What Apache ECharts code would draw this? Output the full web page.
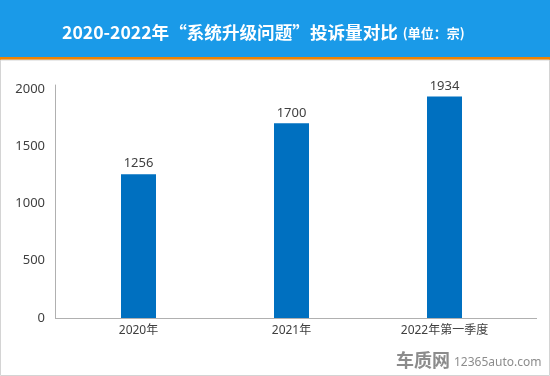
<!DOCTYPE html>
<html>
<head>
<meta charset="utf-8">
<script src="https://cdn.jsdelivr.net/npm/echarts@6/dist/echarts.min.js"></script>
<style>
	html, body { margin: 0; padding: 0; background: #fff; }
	#main { width: 550px; height: 376px; }
</style>
</head>
<body>
<div id="main"></div>
<script>
var categories = ['2020年', '2021年', '2022年第一季度'];
var complaints = [1256, 1700, 1934];
var yTicks = [0, 500, 1000, 1500, 2000];

var font = '"Noto Sans", "Noto Sans CJK SC", sans-serif';

var chart = echarts.init(document.getElementById('main'));
chart.setOption({
	animation: false,
	title: {
		text: '{a|2020-2022年“系统升级问题”投诉量对比} {b|(单位：宗)}',
		left: 57,
		top: 18,
		textStyle: {
			rich: {
				a: { color: '#fff', fontSize: 17.6, fontWeight: 'bold', fontFamily: '"Noto Sans CJK SC", sans-serif' },
				b: { color: '#fff', fontSize: 13, fontFamily: '"Noto Sans CJK SC", sans-serif', padding: [2, 0, 0, 0] }
			}
		}
	},
	grid: {
		left: 62,
		right: 29,
		top: 85,
		bottom: 58
	},
	xAxis: {
		type: 'category',
		data: categories,
		axisLine: { show: false },
		axisTick: { show: false },
		axisLabel: {
			color: '#404040',
			fontSize: 12,
			fontFamily: font,
			margin: 7
		}
	},
	yAxis: {
		type: 'value',
		min: 0,
		max: 2035,
		interval: 500,
		offset: 7,
		splitLine: { show: false },
		axisLine: { show: true, lineStyle: { color: '#b0b0b0' } },
		axisTick: { show: false },
		axisLabel: {
			color: '#404040',
			fontSize: 13,
			fontFamily: font,
			margin: 10,
			formatter: function(v) {
				return yTicks.indexOf(v) >= 0 ? String(v) : '';
			}
		}
	},
	series: [{
		type: 'bar',
		data: complaints,
		barWidth: 35,
		itemStyle: { color: '#0070c0' },
		label: {
			show: true,
			position: 'top',
			distance: 4,
			color: '#404040',
			fontSize: 13,
			fontFamily: font
		}
	}],
	graphic: [
		// header band
		{ type: 'rect', shape: { x: 0, y: 0, width: 550, height: 57 }, style: { fill: '#1a9ae8' }, z: -10 },
		{ type: 'rect', shape: { x: 0, y: 57, width: 550, height: 3 }, style: { fill: '#f08300' }, z: -10 },
		// frame
		{ type: 'rect', shape: { x: 0.5, y: 60, width: 549, height: 315.5 }, style: { fill: null, stroke: '#d4d4d4', lineWidth: 1 }, z: -10 },
		// x axis line
		{ type: 'line', shape: { x1: 55, y1: 318.5, x2: 537, y2: 318.5 }, style: { stroke: '#b0b0b0', lineWidth: 1 } },
		// watermark
		{ type: 'text', left: 396, top: 351, style: { text: '车质网', fill: '#8c8c8c', font: 'bold 18px "Noto Sans CJK SC", sans-serif' } },
		{ type: 'text', left: 454, top: 357, style: { text: '12365auto.com', fill: '#8c8c8c', font: '12px "Noto Sans", sans-serif' } }
	]
});
</script>
</body>
</html>
